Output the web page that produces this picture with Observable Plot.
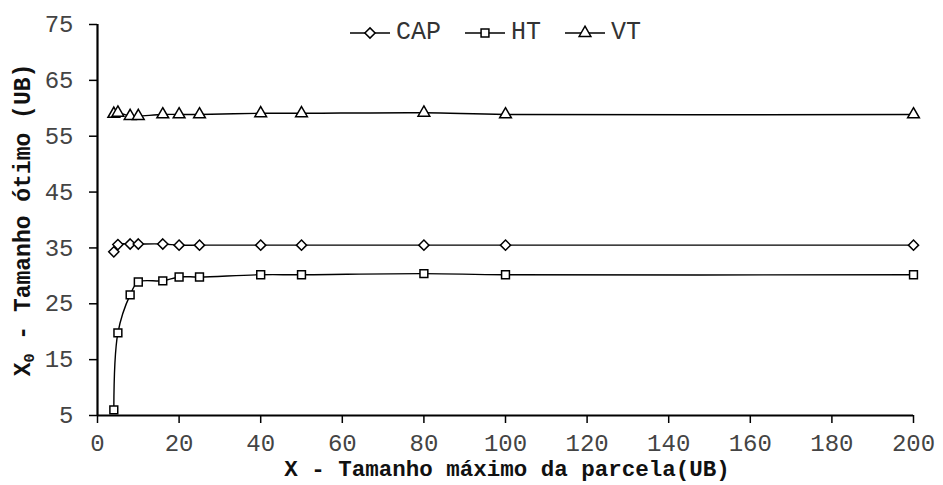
<!DOCTYPE html>
<html>
<head>
<meta charset="utf-8">
<script src="https://cdn.jsdelivr.net/npm/d3@7"></script>
<script src="https://cdn.jsdelivr.net/npm/@observablehq/plot@0.6"></script>
<style>
  body { margin: 0; background: #fff; }
  #chart { position: relative; width: 943px; height: 485px; font-family: "Liberation Mono", "Courier New", monospace; }
  #legend { position: absolute; top: 18px; left: 350px; display: flex; align-items: center; font-size: 25px; color: #333; }
  #legend .item { display: flex; align-items: center; margin-right: 24px; }
  #legend svg { display: block; margin-right: 6px; }
</style>
</head>
<body>
<div id="chart"></div>
<script>
// Maximum plot size X (UB) and optimal plot size X0 (UB) per variable
const parcelMax = [4, 5, 8, 10, 16, 20, 25, 40, 50, 80, 100, 200];
const capValues = [34.3, 35.6, 35.7, 35.7, 35.7, 35.5, 35.5, 35.5, 35.5, 35.5, 35.5, 35.5];
const htValues  = [6.0, 19.8, 26.6, 28.9, 29.1, 29.8, 29.8, 30.2, 30.2, 30.4, 30.2, 30.2];
const vtValues  = [59.0, 59.2, 58.6, 58.6, 58.9, 58.9, 58.9, 59.1, 59.1, 59.2, 58.9, 58.9];

const seriesNames = ["CAP", "HT", "VT"];
const seriesSymbols = ["diamond2", "square2", "triangle2"];
const seriesRadius = [4.6, 5.0, 5.6];

const xTicks = [0, 20, 40, 60, 80, 100, 120, 140, 160, 180, 200];
const yTicks = [5, 15, 25, 35, 45, 55, 65, 75];

const xTitle = "X - Tamanho máximo da parcela(UB)";
const yTitleMain = "X";
const yTitleSub = "0";
const yTitleRest = " - Tamanho ótimo (UB)";

const seriesValues = [capValues, htValues, vtValues];
const rows = seriesNames.flatMap((name, i) =>
  parcelMax.map((x, j) => ({series: name, x, y: seriesValues[i][j]}))
);

const chart = Plot.plot({
  width: 943,
  height: 485,
  marginLeft: 97,
  marginRight: 30,
  marginTop: 24,
  marginBottom: 70,
  style: {fontFamily: "'Liberation Mono', 'Courier New', monospace", fontSize: "24px", color: "#333", background: "#fff", overflow: "visible"},
  x: {domain: [0, 200]},
  y: {domain: [5, 75]},
  marks: [
    Plot.axisX({ticks: xTicks, tickSize: 8, tickPadding: 10, label: null, strokeWidth: 1.5, stroke: "#000", fill: "#444"}),
    Plot.axisY({ticks: yTicks, tickSize: 8, tickPadding: 16, label: null, strokeWidth: 1.5, stroke: "#000", fill: "#444"}),
    Plot.ruleX([0], {stroke: "#000", strokeWidth: 2.2}),
    Plot.ruleY([5], {stroke: "#000", strokeWidth: 2.2}),
    Plot.line(rows, {x: "x", y: "y", z: "series", curve: "catmull-rom", stroke: "#000", strokeWidth: 1.4}),
    ...seriesNames.map((name, i) =>
      Plot.dot(rows.filter(d => d.series === name), {
        x: "x", y: "y", symbol: () => seriesSymbols[i], r: seriesRadius[i],
        stroke: "#000", strokeWidth: 1.5, fill: "#fff"
      })
    )
  ]
});

// Axis titles (the y title carries a subscript)
const svg = d3.select(chart);
svg.append("text")
  .attr("x", 507).attr("y", 476)
  .attr("text-anchor", "middle")
  .attr("font-weight", "bold")
  .attr("font-size", 22.5)
  .attr("fill", "#111")
  .text(xTitle);

const yt = svg.append("text")
  .attr("transform", "translate(30,220) rotate(-90)")
  .attr("text-anchor", "middle")
  .attr("font-weight", "bold")
  .attr("font-size", 23)
  .attr("fill", "#111");
yt.append("tspan").text(yTitleMain);
yt.append("tspan").attr("font-size", 15).attr("dy", 4).text(yTitleSub);
yt.append("tspan").attr("dy", -4).text(yTitleRest);

const container = document.getElementById("chart");
container.appendChild(chart);

// Legend drawn over the top of the plot area
const legend = d3.select(container).append("div").attr("id", "legend");
seriesNames.forEach((name, i) => {
  const item = legend.append("div").attr("class", "item");
  const s = item.append("svg").attr("width", 40).attr("height", 20);
  s.append("line").attr("x1", 0).attr("x2", 40).attr("y1", 10).attr("y2", 10)
    .attr("stroke", "#000").attr("stroke-width", 1.4);
  const symType = {diamond2: d3.symbolDiamond2, square2: d3.symbolSquare2, triangle2: d3.symbolTriangle2}[seriesSymbols[i]];
  s.append("path")
    .attr("transform", "translate(20,10)")
    .attr("d", d3.symbol(symType, Math.PI * seriesRadius[i] * seriesRadius[i])())
    .attr("fill", "#fff").attr("stroke", "#000").attr("stroke-width", 1.5);
  item.append("span").text(name);
});
</script>
</body>
</html>
